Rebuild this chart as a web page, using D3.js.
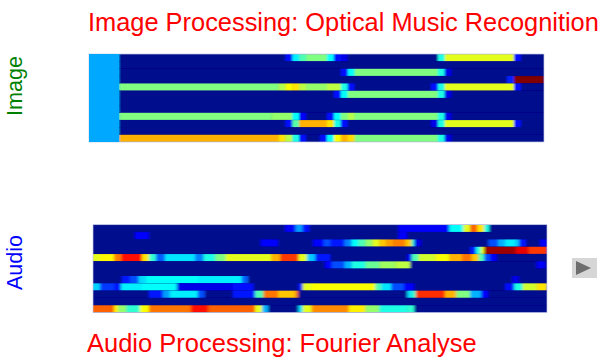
<!DOCTYPE html>
<html><head><meta charset="utf-8">
<script src="https://cdn.jsdelivr.net/npm/d3@7"></script>
<style>html,body{margin:0;padding:0;background:#fff}svg{display:block}text{font-family:"Liberation Sans",Arial,sans-serif}</style>
</head><body><svg id="c" width="603" height="360"></svg>
<script>
const imageTitle = "Image Processing: Optical Music Recognition";
const audioTitle = "Audio Processing: Fourier Analyse";
const imageLabel = "Image";
const audioLabel = "Audio";
// each row: runs of [start column, intensity 0..1]; a run lasts until the next start
const L = 0.29; // left block of the image matrix
const imageRows = [
 [[-4.34,L],[0,0],[24,.14],[25,.36],[26,.45],[27,.5],[30,.38],[31,.14],[32,.1],[33,0],[46,.4],[47,.6],[57,.14],[58,0]],
 [[-4.34,L],[0,0]],
 [[-4.34,L],[0,0],[32,.14],[33,.38],[34,.5],[46,.4],[47,.1],[48,0]],
 [[-4.34,L],[0,0],[56,.16],[57,1]],
 [[-4.34,L],[0,.5],[23,.55],[24,.62],[25,.65],[26,.56],[27,.52],[30,.56],[32,.4],[33,.14],[34,0],[45,.14],[46,.4],[47,.6],[57,.14],[58,0]],
 [[-4.34,L],[0,0],[31,.14],[32,.38],[33,.5],[46,.4],[47,.1],[48,0]],
 [[-4.34,L],[0,0]],
 [[-4.34,L],[0,0]],
 [[-4.34,L],[0,.5],[22,.52],[25,.38],[26,.12],[27,0],[30,.14],[31,.38],[32,.5],[33,.55],[34,.5],[46,.4],[47,.1],[48,0]],
 [[-4.34,L],[0,0],[24,.14],[25,.46],[26,.7],[30,.65],[31,.4],[32,.14],[33,0],[45,.1],[46,.4],[47,.6],[57,.14],[58,0]],
 [[-4.34,L],[0,0]],
 [[-4.34,L],[0,.7],[23,.65],[24,.56],[25,.4],[26,.14],[27,0],[29,.14],[30,.38],[31,.62],[32,.7],[33,.66],[34,.5],[46,.4],[47,.1],[48,0]]
];
const audioRows = [
 [[0,0],[27.5,.12],[29,.28],[30,.14],[31,0],[43.7,.12],[51,.38],[53,.6],[54,.78],[55,.65],[56,.4],[56.7,0]],
 [[0,0],[6,.13],[8,0],[43.7,.12],[45,0]],
 [[0,0],[24,.13],[26.5,0],[31.5,.13],[33,.2],[34,.15],[36,.25],[37,.38],[38,.45],[39,.52],[40,.6],[41,.68],[42,.72],[43,.75],[44.7,.68],[45.6,.42],[46,.1],[47,0],[56.6,.2],[58,.3],[59,.36],[60.5,.32],[61,.15],[62,0],[64,.12]],
 [[0,0],[54,.15],[54.8,.4],[55.5,.6],[56,.97],[60.5,.9],[62.4,.82]],
 [[0,.6],[1,.63],[3,.75],[4,.86],[7,.65],[8,.42],[9,.22],[10.3,.35],[14.6,.25],[15.8,.4],[17.5,.5],[19,.6],[25.5,.7],[26.8,.82],[29.4,.6],[30.6,.32],[31.8,.15],[34,0],[45,.12],[45.6,.45],[46.6,.58],[49,.62],[51,.7],[52.8,.76],[54.2,.68],[55.2,.45],[56,.2],[56.8,.12],[57.8,0]],
 [[0,0],[33.2,.13],[34.2,.2],[36,.3],[37,.4],[39,.48],[41,.53],[43.3,.56],[45.4,0],[63.5,.12],[64.8,0]],
 [[0,0]],
 [[0,0],[4.1,.15],[5.3,.2],[6.5,.34],[7.5,.38],[15,.36],[21.3,.22],[22.2,0],[60,.1],[61,0]],
 [[0,.33],[1,.18],[3,.15],[4,.36],[7,.38],[12,.1],[20,.14],[23,0],[29.4,.15],[30,.6],[31.3,.62],[40.4,.45],[41.3,.35],[42.7,.2],[44.5,.12],[46,0],[59,.14],[60.3,.4],[61.5,.58],[63.5,.65]],
 [[0,0],[8,.15],[10,.28],[11,.36],[15,.2],[16,0],[20,.15],[23.2,.45],[24.4,.76],[26.5,.68],[29,.76],[29.4,0],[45,.35],[45.6,.42],[46.2,.83],[50.4,.7],[52,.5],[54,.3],[55.6,.13],[56.6,0]],
 [[0,0]],
 [[0,.78],[3,.64],[3.6,.52],[4.8,.42],[6.7,.62],[8,.76],[14,.86],[16.5,.78],[23.2,.6],[24.2,.3],[25.1,0],[29.4,.35],[30,.6],[31.3,.74],[36.6,.64],[39,.52],[41,.4],[45,.42],[46,0]]
];
const jetStops = [0,.125,.375,.625,.875,1];
const jetColors = ["#00088c","#0000ff","#00ffff","#ffff00","#ff0000","#800000"];

const jet = d3.scaleLinear().domain(jetStops).range(jetColors).clamp(true);
const svg = d3.select("#c");
const defs = svg.append("defs");
function softFilter(id, dev){
  defs.append("filter").attr("id",id).attr("filterUnits","userSpaceOnUse")
    .attr("x",0).attr("y",0).attr("width",603).attr("height",360)
    .append("feGaussianBlur").attr("stdDeviation",dev);
}
softFilter("softA","0.8 0.4");
softFilter("softB","1.7 0.45");

function heat(rows, domain, left, right, top, bottom, id, filterId){
  const x = d3.scaleLinear().domain(domain).range([left,right]);
  const y = d3.scaleBand().domain(d3.range(rows.length)).range([top,bottom]);
  defs.append("clipPath").attr("id",id).append("rect").attr("x",left).attr("y",top).attr("width",right-left).attr("height",bottom-top);
  const outer = svg.append("g").attr("clip-path",`url(#${id})`);
  outer.append("rect").attr("x",left).attr("y",top).attr("width",right-left).attr("height",bottom-top).attr("fill",jet(0));
  const g = outer.append("g").attr("filter",`url(#${filterId})`);
  g.append("rect").attr("x",left-3).attr("y",top-3).attr("width",right-left+6).attr("height",bottom-top+6).attr("fill",jet(0));
  rows.forEach((runs,i)=>{
    g.selectAll(null).data(runs).join("rect")
      .attr("x",d=>d[0]===domain[0]?x(d[0])-3:x(d[0]))
      .attr("y",y(i)+0.1)
      .attr("width",(d,j)=>x(j+1<runs.length?runs[j+1][0]:domain[1])-x(d[0])+(d[0]===domain[0]?3:0.3))
      .attr("height",y.bandwidth()-0.2)
      .attr("fill",d=>jet(d[1]));
  });
  svg.append("rect").attr("x",left).attr("y",top).attr("width",right-left).attr("height",bottom-top)
    .attr("fill","none").attr("stroke","#c4cae2").attr("stroke-width",0.7);
}
heat(imageRows,[-4.34,61.34],89,544,54,142,"clipA","softA");
heat(audioRows,[0,65],93,547,224.7,312.5,"clipB","softB");

// left block: one continuous colour, drawn from the same value
const blockX = d3.scaleLinear().domain([-4.34,61.34]).range([89,544]);
svg.append("rect").attr("x",blockX(-4.34)).attr("y",54).attr("width",blockX(0)-blockX(-4.34)).attr("height",88).attr("fill",jet(L));

const T = (s,x,y,size,fill)=>svg.append("text").attr("x",x).attr("y",y).attr("font-size",size).attr("fill",fill).text(s);
T(imageTitle,88,31,25.4,"#ff0000");
T(audioTitle,87,352,25.5,"#ff0000");
svg.append("text").attr("transform","translate(22,86) rotate(-90)").attr("text-anchor","middle").attr("font-size",21.6).attr("fill","#008000").text(imageLabel);
svg.append("text").attr("transform","translate(22,262.5) rotate(-90)").attr("text-anchor","middle").attr("font-size",21.6).attr("fill","#0000ff").text(audioLabel);

// play button
svg.append("rect").attr("x",572).attr("y",258).attr("width",25).attr("height",20).attr("fill","#d6d6d6");
svg.append("path").attr("d",d3.line()([[576,261],[591,268],[576,275]])+"Z").attr("fill","#6e6e6e");
</script></body></html>
